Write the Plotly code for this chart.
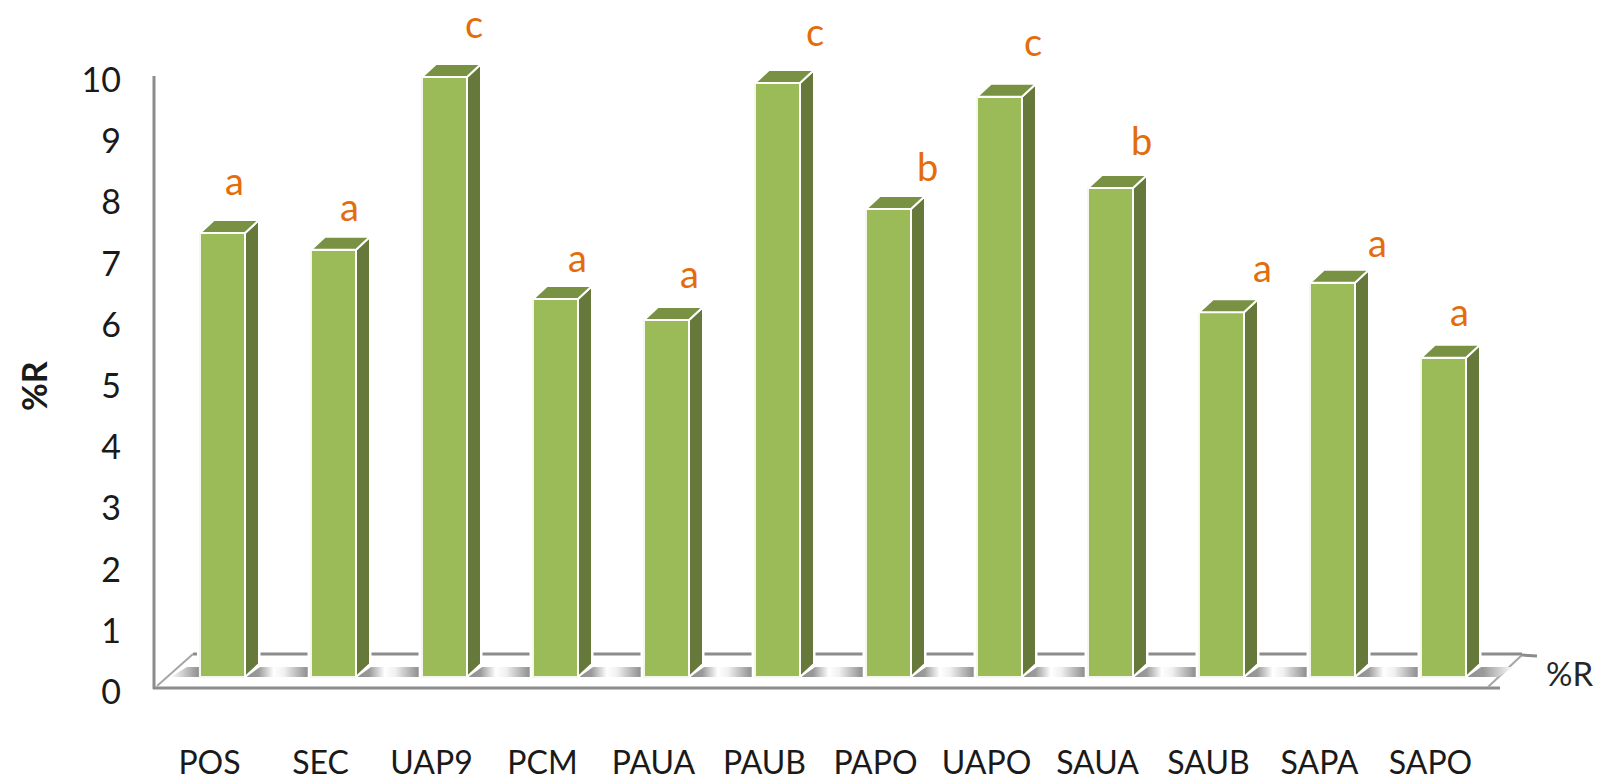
import plotly.graph_objects as go

categories = ["POS", "SEC", "UAP9", "PCM", "PAUA", "PAUB", "PAPO", "UAPO", "SAUA", "SAUB", "SAPA", "SAPO"]
values = [7.4, 7.12, 10.0, 6.3, 5.95, 9.9, 7.8, 9.67, 8.15, 6.08, 6.57, 5.32]
letters = ["a", "a", "c", "a", "a", "c", "b", "c", "b", "a", "a", "a"]
y_ticks = list(range(11))

W, H = 1602, 780
STEP = 111.0            # px between bars
X0 = 222.5              # px of first bar centre
BASE = 677.0            # px of value 0 at the bar foot
UNIT = 60.0             # px per unit on the bars
BAR_W = 45 / STEP
DX = 14 / STEP
DY = 13 / UNIT
FONT = "Lato, Carlito, sans-serif"
GREY = "#8C8C8C"
LEFT_PX = 122
XAXIS_PX = 741

letter_shift = [(11.5, 53), (16, 44), (29, 54), (22, 42), (23, 47), (37, 52),
                (39, 43), (33.5, 56), (31, 48), (41, 45), (45, 41), (15.5, 47)]

idx = list(range(len(categories)))
fig = go.Figure()


def px(x):
    return x / W


def py(y):
    return 1 - y / H


# floor shadows between the bars
stops = [[0, "#909090"], [0.2, "#9A9A9A"], [0.45, "#FFFFFF"], [0.62, "#F0F0F0"], [1, "#8E8E8E"]]
lead = [[0, "#FFFFFF"], [1, "#8E8E8E"]]
floor_top = 10 / UNIT
for i in [-1] + idx[:-1]:
    if i < 0:
        xs = [-0.47, -0.32, -BAR_W / 2 - 0.01, -BAR_W / 2 - 0.01, -0.47]
        cs = lead
    else:
        left = i + BAR_W / 2 + 0.01
        right = i + 1 - BAR_W / 2 - 0.03
        xs = [left, left + DX, right, right, left]
        cs = stops
    fig.add_trace(go.Scatter(x=xs, y=[0, floor_top, floor_top, 0, 0], yaxis="y2", mode="lines",
                             line=dict(width=0), fill="toself",
                             fillgradient=dict(type="horizontal", colorscale=cs),
                             hoverinfo="skip", showlegend=False))
last = idx[-1] + BAR_W / 2 + 0.01
fig.add_trace(go.Scatter(x=[last, last + DX, last + 0.42, last + 0.28, last], y=[0, floor_top, floor_top, 0, 0],
                         yaxis="y2", mode="lines", line=dict(width=0), fill="toself",
                         fillgradient=dict(type="horizontal",
                                           colorscale=[[0, "#909090"], [0.35, "#9A9A9A"], [1, "#FFFFFF"]]),
                         hoverinfo="skip", showlegend=False))

# front faces
fig.add_trace(go.Bar(x=idx, y=values, yaxis="y2", width=BAR_W,
                     marker=dict(color="#9BBB59", line=dict(color="#F4F7EA", width=2)),
                     hoverinfo="skip", showlegend=False))

# side and top faces, derived from the same values
for i, v in zip(idx, values):
    l, r = i - BAR_W / 2, i + BAR_W / 2
    fig.add_trace(go.Scatter(x=[r, r + DX, r + DX, r, r], y=[0, DY, v + DY, v, 0], yaxis="y2",
                             mode="lines", fill="toself", fillcolor="#66783A",
                             line=dict(color="#FFFFFF", width=2), hoverinfo="skip", showlegend=False))
    fig.add_trace(go.Scatter(x=[l, l + DX, r + DX, r, l], y=[v, v + DY, v + DY, v, v], yaxis="y2",
                             mode="lines", fill="toself", fillcolor="#789142",
                             line=dict(color="#FFFFFF", width=2), hoverinfo="skip", showlegend=False))

shapes = []


def seg(x0, y0, x1, y1, width=3, color=GREY):
    shapes.append(dict(type="line", xref="paper", yref="paper", x0=px(x0), y0=py(y0), x1=px(x1), y1=py(y1),
                       line=dict(color=color, width=width), layer="below"))


seg(154, 76, 154, 689)
seg(153, 688, 1500, 688)
seg(157, 686, 193, 654, 2, "#A6A6A6")
seg(1488, 687, 1522, 655, 2, "#A6A6A6")
seg(1522, 655, 1537, 656, 3)
# back line, broken around each bar
xpos = [193] + [X0 + STEP * i + 38 for i in idx]
xend = [197] + [X0 + STEP * (i + 1) - 26 for i in idx[:-1]] + [1522]
for a, b in zip(xpos, xend):
    seg(a, 654, b, 654, 3)

annotations = [
    dict(x=i, y=v, xref="x", yref="y2", text=t, showarrow=False, xshift=s[0], yshift=s[1],
         font=dict(family=FONT, size=38, color="#E46C0A"))
    for i, v, t, s in zip(idx, values, letters, letter_shift)
]
annotations += [
    dict(x=px(33), y=py(386), xref="paper", yref="paper", text="<b>%R</b>", textangle=-90, showarrow=False,
         xanchor="center", yanchor="middle", font=dict(family=FONT, size=34, color="#1A1A1A")),
    dict(x=px(1569), y=py(673), xref="paper", yref="paper", text="%R", showarrow=False,
         xanchor="center", yanchor="middle", font=dict(family=FONT, size=33, color="#262626")),
]

fig.update_layout(
    width=W, height=H, autosize=False, margin=dict(l=0, r=0, t=0, b=0),
    paper_bgcolor="white", plot_bgcolor="rgba(0,0,0,0)", showlegend=False, bargap=0,
    shapes=shapes, annotations=annotations,
    xaxis=dict(domain=[px(LEFT_PX), 1], range=[(LEFT_PX - X0) / STEP, (W - X0) / STEP], anchor="y2",
               tickmode="array", tickvals=[i - 13 / STEP for i in idx], ticktext=categories,
               showgrid=False, zeroline=False, showline=False, ticks="", automargin=False,
               tickfont=dict(family=FONT, size=32, color="#1A1A1A")),
    yaxis=dict(domain=[py(692), py(80)], range=[0, 10], anchor="x",
               tickmode="array", tickvals=y_ticks, ticktext=[str(t) for t in y_ticks],
               showgrid=False, zeroline=False, showline=False, ticks="", automargin=False,
               tickfont=dict(family=FONT, size=34, color="#1A1A1A")),
    yaxis2=dict(domain=[py(XAXIS_PX), 1], range=[-(XAXIS_PX - BASE) / UNIT, BASE / UNIT], anchor="x",
                showgrid=False, zeroline=False, showline=False, showticklabels=False, ticks=""),
)
# invisible trace that keeps the labelled value axis on the page
fig.add_trace(go.Scatter(x=[0], y=[0], yaxis="y", mode="markers", marker=dict(opacity=0), hoverinfo="skip",
                         showlegend=False))

fig.write_html("out.html", config={"displayModeBar": False},
               post_script="document.body.style.margin='0';")
